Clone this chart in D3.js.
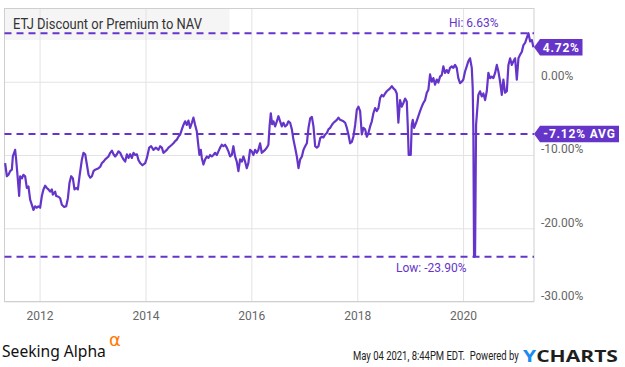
<!DOCTYPE html>
<html>
<head>
<meta charset="utf-8">
<script src="https://cdn.jsdelivr.net/npm/d3@7"></script>
<style>
    body { margin: 0; background: #fff; }
    svg { display: block; font-family: Roboto, "Noto Sans", sans-serif; }
</style>
</head>
<body>
<div id="chart"></div>
<script>
// data (dates as decimal years, values in % to NAV)
var years = [
    2011.349, 2011.382, 2011.412, 2011.444, 2011.476, 2011.495, 2011.538, 2011.557, 2011.582, 2011.614,
    2011.633, 2011.665, 2011.695, 2011.727, 2011.759, 2011.790, 2011.822, 2011.854, 2011.884, 2011.916,
    2011.948, 2011.978, 2012.010, 2012.043, 2012.073, 2012.105, 2012.137, 2012.167, 2012.199, 2012.231,
    2012.250, 2012.294, 2012.313, 2012.356, 2012.388, 2012.420, 2012.464, 2012.502, 2012.534, 2012.564,
    2012.596, 2012.628, 2012.658, 2012.690, 2012.722, 2012.753, 2012.798, 2012.828, 2012.860, 2012.892,
    2012.923, 2012.955, 2012.987, 2013.017, 2013.049, 2013.081, 2013.112, 2013.144, 2013.176, 2013.206,
    2013.238, 2013.270, 2013.300, 2013.333, 2013.365, 2013.395, 2013.427, 2013.459, 2013.489, 2013.521,
    2013.553, 2013.584, 2013.616, 2013.648, 2013.678, 2013.710, 2013.742, 2013.773, 2013.805, 2013.837,
    2013.867, 2013.899, 2013.942, 2013.994, 2014.026, 2014.069, 2014.107, 2014.150, 2014.196, 2014.245,
    2014.277, 2014.309, 2014.339, 2014.371, 2014.403, 2014.434, 2014.466, 2014.498, 2014.528, 2014.560,
    2014.592, 2014.622, 2014.655, 2014.687, 2014.717, 2014.749, 2014.781, 2014.811, 2014.843, 2014.876,
    2014.906, 2014.938, 2014.970, 2015.000, 2015.019, 2015.045, 2015.064, 2015.095, 2015.127, 2015.159,
    2015.189, 2015.221, 2015.253, 2015.283, 2015.316, 2015.348, 2015.378, 2015.410, 2015.442, 2015.472,
    2015.504, 2015.536, 2015.567, 2015.599, 2015.631, 2015.661, 2015.693, 2015.725, 2015.756, 2015.788,
    2015.820, 2015.850, 2015.882, 2015.914, 2015.944, 2015.976, 2016.009, 2016.039, 2016.071, 2016.103,
    2016.133, 2016.165, 2016.197, 2016.228, 2016.260, 2016.292, 2016.322, 2016.345, 2016.367, 2016.392,
    2016.417, 2016.449, 2016.481, 2016.511, 2016.543, 2016.575, 2016.605, 2016.638, 2016.670, 2016.700,
    2016.732, 2016.764, 2016.794, 2016.826, 2016.858, 2016.889, 2016.921, 2016.953, 2016.983, 2017.015,
    2017.047, 2017.078, 2017.110, 2017.142, 2017.172, 2017.204, 2017.236, 2017.266, 2017.299, 2017.331,
    2017.361, 2017.393, 2017.425, 2017.455, 2017.487, 2017.520, 2017.550, 2017.582, 2017.614, 2017.644,
    2017.676, 2017.708, 2017.739, 2017.771, 2017.803, 2017.833, 2017.865, 2017.897, 2017.927, 2017.960,
    2017.992, 2018.022, 2018.054, 2018.086, 2018.116, 2018.148, 2018.181, 2018.211, 2018.243, 2018.275,
    2018.305, 2018.337, 2018.369, 2018.400, 2018.432, 2018.464, 2018.494, 2018.526, 2018.558, 2018.588,
    2018.621, 2018.653, 2018.683, 2018.715, 2018.747, 2018.777, 2018.809, 2018.842, 2018.872, 2018.904,
    2018.936, 2018.955, 2018.972, 2019.011, 2019.030, 2019.049, 2019.074, 2019.112, 2019.155, 2019.187,
    2019.219, 2019.249, 2019.282, 2019.314, 2019.344, 2019.376, 2019.408, 2019.438, 2019.470, 2019.503,
    2019.533, 2019.565, 2019.597, 2019.627, 2019.659, 2019.691, 2019.722, 2019.754, 2019.786, 2019.816,
    2019.848, 2019.880, 2019.910, 2019.943, 2019.975, 2020.005, 2020.037, 2020.069, 2020.099, 2020.131,
    2020.164, 2020.182, 2020.194, 2020.207, 2020.226, 2020.245, 2020.269, 2020.288, 2020.320, 2020.352,
    2020.383, 2020.415, 2020.447, 2020.477, 2020.509, 2020.541, 2020.571, 2020.604, 2020.636, 2020.666,
    2020.698, 2020.730, 2020.760, 2020.792, 2020.825, 2020.855, 2020.887, 2020.919, 2020.949, 2020.981,
    2021.013, 2021.044, 2021.076, 2021.108, 2021.138, 2021.170, 2021.202, 2021.233, 2021.265, 2021.297,
    2021.327
];
var premium = [
    -11.1, -12.9, -12.7, -12.2, -12.0, -10.2, -9.3, -10.6, -12.7, -15.6,
    -12.9, -13.2, -12.7, -12.9, -14.5, -14.3, -16.1, -16.8, -17.5, -17.0,
    -17.2, -17.0, -17.2, -15.6, -14.7, -14.2, -14.5, -14.7, -15.0, -14.7,
    -15.4, -15.0, -15.6, -15.7, -15.9, -16.8, -17.1, -17.0, -15.9, -13.8,
    -12.9, -13.2, -14.7, -14.5, -14.7, -12.9, -10.6, -9.7, -9.9, -11.3,
    -12.7, -13.1, -12.9, -12.2, -12.0, -11.9, -11.8, -11.6, -11.1, -10.9,
    -10.6, -10.4, -10.2, -9.7, -9.4, -9.9, -10.2, -9.9, -9.5, -9.7,
    -10.2, -10.6, -10.9, -9.9, -10.4, -9.9, -10.4, -9.7, -10.0, -9.9,
    -10.7, -11.1, -11.4, -11.1, -10.4, -9.0, -8.8, -9.3, -9.0, -9.3,
    -8.8, -9.0, -9.7, -9.5, -9.3, -9.0, -8.8, -8.6, -8.4, -8.1,
    -7.9, -7.5, -7.2, -6.5, -5.9, -5.4, -5.9, -5.3, -6.3, -5.6,
    -4.9, -5.9, -6.8, -8.8, -10.0, -9.3, -10.4, -11.3, -10.6, -10.2,
    -10.4, -10.0, -10.2, -10.0, -9.7, -10.0, -9.5, -9.0, -8.6, -8.8,
    -8.6, -9.0, -9.5, -10.2, -10.0, -8.8, -10.2, -10.9, -12.2, -10.6,
    -10.9, -10.2, -10.9, -11.8, -11.1, -9.3, -9.5, -10.0, -9.3, -9.7,
    -9.3, -8.4, -9.7, -9.5, -9.3, -9.0, -8.6, -6.0, -4.3, -5.8,
    -5.4, -6.1, -5.4, -4.7, -5.4, -6.1, -5.6, -6.1, -5.9, -5.4,
    -5.6, -6.5, -7.9, -9.0, -10.2, -11.8, -10.6, -10.2, -9.3, -8.8,
    -8.4, -6.3, -5.0, -4.8, -6.1, -8.8, -9.0, -8.8, -7.7, -7.5,
    -7.6, -7.2, -7.0, -6.5, -6.3, -5.9, -5.6, -5.4, -5.2, -4.9,
    -5.2, -5.3, -5.4, -5.6, -6.3, -7.2, -8.4, -8.2, -7.5, -5.9,
    -3.8, -3.4, -4.0, -7.2, -6.3, -6.5, -7.5, -7.0, -6.1, -5.4,
    -4.3, -3.6, -4.0, -3.6, -2.2, -1.8, -2.0, -1.6, -1.3, -1.1,
    -0.9, -0.6, -0.9, -1.1, -1.6, -5.6, -2.5, -3.4, -2.9, -2.3,
    -2.7, -6.1, -10.0, -10.0, -5.9, -5.2, -6.3, -5.6, -4.7, -4.0,
    -3.4, -2.9, -2.5, -1.5, -1.1, 1.0, 0.0, 0.5, -0.4, 0.3,
    -0.1, 0.7, 0.9, 2.1, 1.2, 1.6, 1.2, 1.9, 2.1, 1.9,
    2.3, 1.9, 0.5, -0.2, 0.0, 0.3, 1.4, 2.1, 2.8, 3.2,
    1.9, -0.9, -6.8, -23.9, -23.8, -5.9, -3.6, -1.8, -1.3, -2.0,
    -1.6, -2.5, -1.3, 1.2, 0.5, 0.7, 0.5, 1.2, 2.3, 1.4,
    0.0, -1.8, 0.3, -1.5, -1.3, 2.3, 3.2, 2.3, 2.8, 3.2,
    0.3, 3.2, 3.7, 4.1, 5.0, 5.3, 6.0, 6.63, 5.5, 5.7,
    4.72
];
var yTicks = [0, -10, -20, -30];
var xTickYears = [2012, 2014, 2016, 2018, 2020];
var hiValue = 6.63;
var lowValue = -23.90;
var avgValue = -7.12;
var lastValue = 4.72;
var startYear = 2011.337, endYear = 2021.338;

var purple = "#6535c9";

function yearToDate(t) {
    var yr = Math.floor(t);
    var start = new Date(yr, 0, 1), next = new Date(yr + 1, 0, 1);
    return new Date(start.getTime() + (t - yr) * (next - start));
}
// plain hyphen minus, like the original
function pct(v) {
    return v.toFixed(2) + "%";
}
// squeeze a text horizontally so it spans w pixels from (x, y)
function fitText(parent, x, y, w, str) {
    var g = parent.append("g");
    var t = g.append("text").attr("x", 0).attr("y", 0).text(str);
    return {
        g: g, text: t, fit: function () {
            var len = t.node().getComputedTextLength();
            g.attr("transform", "translate(" + x + "," + y + ") scale(" + (w / len) + ",1)");
        }
    };
}

var series = years.map(function (t, i) {
    return {date: yearToDate(t), value: premium[i]};
});

var margin = {top: 8.5, left: 4.5};
var width = 529.5, height = 293;

var svg = d3.select("#chart").append("svg")
    .attr("width", 625)
    .attr("height", 367);

var x = d3.scaleTime()
    .domain([yearToDate(startYear), yearToDate(endYear)])
    .range([0, width]);
var y = d3.scaleLinear()
    .domain([-30, 10])
    .range([height, 0]);

var vis = svg.append("g")
    .attr("transform", "translate(" + margin.left + "," + margin.top + ")");

// title box ------------------------------
vis.append("rect")
    .attr("x", 0).attr("y", 0)
    .attr("width", 225).attr("height", 31.5)
    .style("fill", "#f5f5f5");

// grid ------------------------------
var xgrid = d3.axisBottom(x)
    .tickValues(xTickYears.map(function (d) { return new Date(d, 0, 1); }))
    .tickSize(height).tickFormat("");
vis.append("g").attr("class", "xgrid").call(xgrid);

var ygrid = d3.axisRight(y).tickValues(yTicks).tickSize(width).tickFormat("");
vis.append("g").attr("class", "ygrid").call(ygrid);

vis.selectAll(".xgrid line, .ygrid line").style("stroke", "#e3e3e3").style("stroke-width", 1);
vis.selectAll(".xgrid .domain, .ygrid .domain").remove();

vis.append("rect")
    .attr("width", width).attr("height", height)
    .style("fill", "none").style("stroke", "#cfcfcf").style("stroke-width", 1);

vis.append("text")
    .attr("x", 8.5).attr("y", 20.5)
    .attr("textLength", 189).attr("lengthAdjust", "spacingAndGlyphs")
    .style("font-size", "14px").style("fill", "#333")
    .text("ETJ Discount or Premium to NAV");

// axes ------------------------------
var xaxis = d3.axisBottom(x)
    .tickValues(xTickYears.map(function (d) { return new Date(d, 0, 1); }))
    .tickSize(0).tickPadding(10)
    .tickFormat(d3.timeFormat("%Y"));
vis.append("g")
    .attr("class", "xaxis")
    .attr("transform", "translate(0," + height + ")")
    .call(xaxis);

var yaxis = d3.axisRight(y)
    .tickValues(yTicks).tickSize(0).tickPadding(7)
    .tickFormat(pct);
vis.append("g")
    .attr("class", "yaxis")
    .attr("transform", "translate(" + width + ",0)")
    .call(yaxis);

vis.selectAll(".xaxis .domain, .yaxis .domain").remove();
vis.selectAll(".xaxis text, .yaxis text")
    .style("font-family", "Roboto, sans-serif")
    .style("font-size", "12px").style("fill", "#666");
vis.selectAll(".yaxis text").attr("dy", "-0.17em");

// reference lines ------------------------------
[hiValue, avgValue, lowValue].forEach(function (v) {
    vis.append("line")
        .attr("x1", 0).attr("x2", width)
        .attr("y1", y(v)).attr("y2", y(v))
        .style("stroke", purple).style("stroke-width", 2)
        .style("stroke-dasharray", "7,5");
});

vis.append("text")
    .attr("x", 444.5).attr("y", 18.5)
    .style("font-size", "12px").style("fill", purple)
    .text("Hi: " + pct(hiValue));
vis.append("text")
    .attr("x", 391.5).attr("y", 263.5)
    .style("font-size", "12px").style("fill", purple)
    .text("Low: " + pct(lowValue));

// series line ------------------------------
var valueline = d3.line()
    .x(function (d) { return x(d.date); })
    .y(function (d) { return y(d.value); });

vis.append("path")
    .datum(series)
    .attr("d", valueline)
    .style("fill", "none")
    .style("stroke", purple)
    .style("stroke-width", 2.2)
    .style("stroke-linejoin", "round");

// value tags ------------------------------
function tag(v, label, w) {
    var cy = y(v), h = 16.5;
    var g = vis.append("g").attr("transform", "translate(" + width + "," + cy + ")");
    g.append("path")
        .attr("d", "M0,0 L6," + (-h / 2) + " L" + (6 + w) + "," + (-h / 2) +
            " L" + (6 + w) + "," + (h / 2) + " L6," + (h / 2) + " Z")
        .style("fill", purple);
    g.append("text")
        .attr("x", 6 + w / 2).attr("y", 4.5)
        .attr("text-anchor", "middle")
        .style("font-size", "12px").style("font-weight", "bold")
        .style("letter-spacing", "0.8px")
        .style("fill", "#fff")
        .text(label);
}
tag(lastValue, pct(lastValue), 42.5);
tag(avgValue, pct(avgValue) + " AVG", 79);

// footer ------------------------------
var sa = fitText(svg, 2, 357, 104, "Seeking Alpha");
sa.text.style("font-family", "'Noto Sans', sans-serif")
    .style("font-size", "17px").style("fill", "#111");
sa.fit();
svg.append("text")
    .attr("x", 109).attr("y", 346)
    .style("font-family", "'DejaVu Sans', sans-serif")
    .style("font-size", "18px").style("fill", "#ff7a00")
    .text("\u03b1");

var stamp = fitText(svg, 353, 360, 166, "May 04 2021, 8:44PM EDT.  Powered by");
stamp.text.style("font-size", "12px").style("fill", "#222").style("white-space", "pre");
stamp.fit();

var yc = fitText(svg, 523, 362, 95, "");
yc.text.style("font-family", "'Open Sans', Roboto, sans-serif")
    .style("font-size", "16px").style("font-weight", "bold");
yc.text.append("tspan").style("fill", "#1a8cf0").text("Y");
yc.text.append("tspan").style("fill", "#1e1e1e").text("CHARTS");
yc.fit();
</script>
</body>
</html>
